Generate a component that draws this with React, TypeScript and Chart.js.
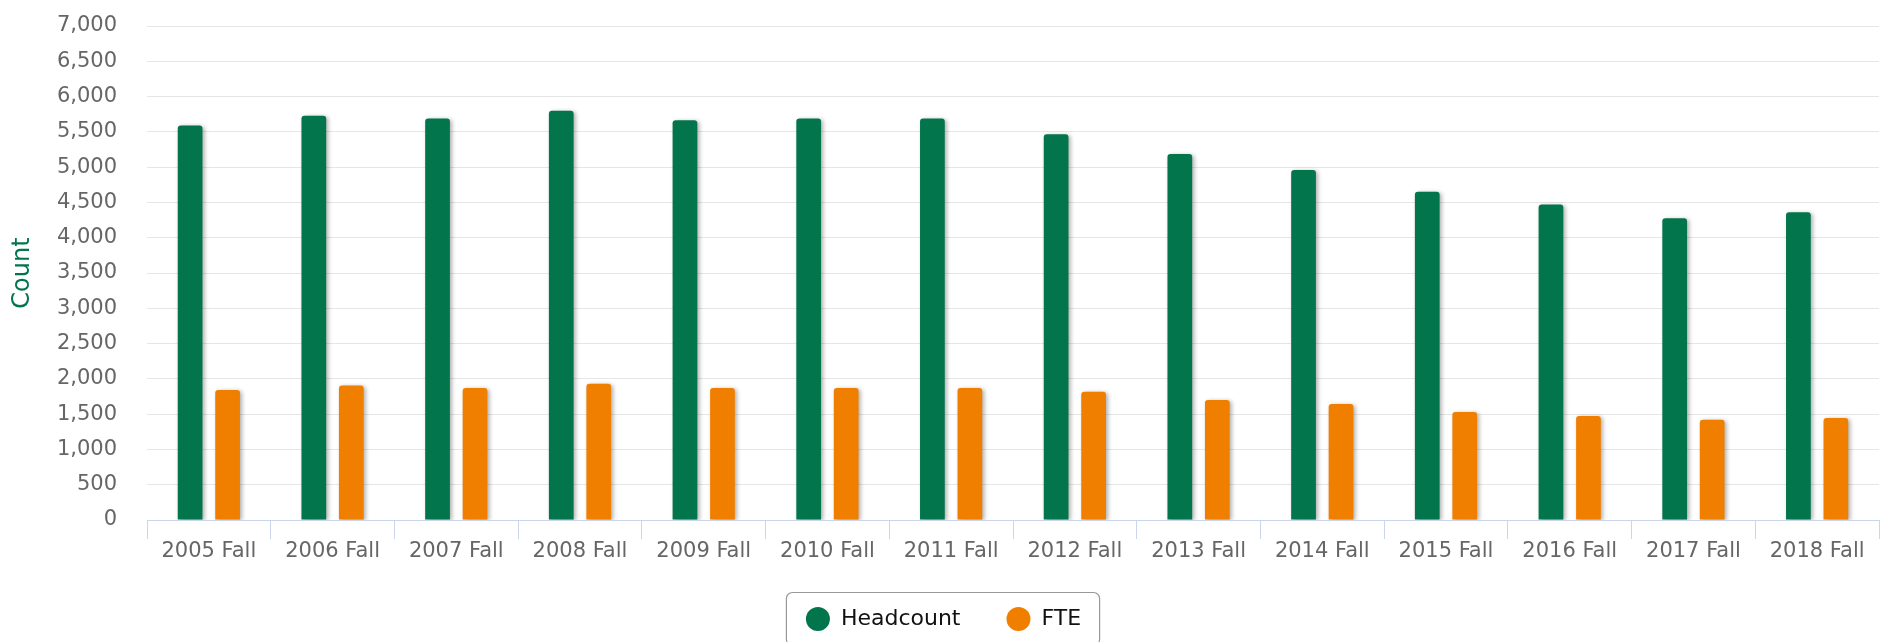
import React, { useEffect, useRef } from "react";
import { Chart, registerables } from "chart.js";

Chart.register(...registerables);

const categories = [
  "2005 Fall", "2006 Fall", "2007 Fall", "2008 Fall", "2009 Fall", "2010 Fall", "2011 Fall",
  "2012 Fall", "2013 Fall", "2014 Fall", "2015 Fall", "2016 Fall", "2017 Fall", "2018 Fall",
];
const headcount = [5590, 5730, 5690, 5800, 5665, 5690, 5690, 5465, 5185, 4960, 4650, 4470, 4275, 4360];
const fte = [1843, 1905, 1872, 1930, 1872, 1872, 1872, 1817, 1700, 1645, 1530, 1475, 1420, 1445];
const seriesNames = ["Headcount", "FTE"];
const yTitle = "Count";

const GREEN = "#03754c";
const ORANGE = "#f07f00";
const FONT = "'DejaVu Sans', sans-serif";
const LEGEND_FONT_SIZE = 22;

const shadowPlugin = {
  id: "barShadow",
  beforeDatasetsDraw(chart: any) {
    const ctx = chart.ctx;
    ctx.save();
    ctx.shadowColor = "rgba(0,0,0,0.32)";
    ctx.shadowBlur = 4;
    ctx.shadowOffsetX = 2;
    ctx.shadowOffsetY = 1;
  },
  afterDatasetsDraw(chart: any) {
    chart.ctx.restore();
  },
};

const legendBoxPlugin = {
  id: "legendBox",
  afterDraw(chart: any) {
    const lg = chart.legend;
    if (!lg || !lg.legendHitBoxes || !lg.legendHitBoxes.length) return;
    const hb = lg.legendHitBoxes;
    const first = hb[0];
    const last = hb[hb.length - 1];
    const cy = first.top + LEGEND_FONT_SIZE / 2;
    const x0 = first.left - 19.5;
    const x1 = last.left + last.width + 18.5;
    const y0 = cy - 26.5;
    const y1 = cy + 26.5;
    const ctx = chart.ctx;
    ctx.save();
    ctx.strokeStyle = "#999999";
    ctx.lineWidth = 1.2;
    ctx.beginPath();
    ctx.roundRect(x0, y0, x1 - x0, y1 - y0, 6);
    ctx.stroke();
    ctx.restore();
  },
};

export default function App() {
  const ref = useRef<HTMLCanvasElement | null>(null);

  useEffect(() => {
    if (!ref.current) return;
    const chart = new Chart(ref.current, {
      type: "bar",
      data: {
        labels: categories,
        datasets: [
          {
            label: seriesNames[0],
            data: headcount,
            backgroundColor: GREEN,
            borderWidth: 0,
            borderRadius: { topLeft: 3, topRight: 3, bottomLeft: 0, bottomRight: 0 },
            borderSkipped: false,
            categoryPercentage: 0.606,
            barPercentage: 0.66,
          },
          {
            label: seriesNames[1],
            data: fte,
            backgroundColor: ORANGE,
            borderWidth: 0,
            borderRadius: { topLeft: 3, topRight: 3, bottomLeft: 0, bottomRight: 0 },
            borderSkipped: false,
            categoryPercentage: 0.606,
            barPercentage: 0.66,
          },
        ],
      },
      options: {
        responsive: false,
        animation: false,
        layout: { padding: { top: 18, right: 4, left: 0, bottom: 28 } },
        plugins: {
          tooltip: { enabled: false },
          legend: {
            position: "bottom",
            labels: {
              usePointStyle: true,
              pointStyle: "circle",
              boxHeight: 17,
              pointStyleWidth: 24,
              padding: 46,
              color: "#111111",
              font: { family: FONT, size: LEGEND_FONT_SIZE, weight: "normal" },
            },
          },
        },
        scales: {
          x: {
            afterFit: (s: any) => {
              s.height = 42;
            },
            grid: {
              display: true,
              drawOnChartArea: false,
              drawTicks: true,
              tickLength: 19,
              color: "#ccd6eb",
              offset: true,
            },
            border: { display: true, color: "#ccd6eb", width: 1 },
            ticks: {
              color: "#666666",
              padding: 0,
              font: { family: FONT, size: 21 },
              maxRotation: 0,
              autoSkip: false,
            },
          },
          y: {
            min: 0,
            max: 7000,
            afterFit: (s: any) => {
              s.width = 139;
              s.paddingTop = 0;
              s.paddingBottom = 0;
            },
            grid: { color: "#e6e6e6", drawTicks: false, lineWidth: 1 },
            border: { display: false },
            ticks: {
              stepSize: 500,
              padding: 30,
              color: "#666666",
              font: { family: FONT, size: 21 },
              callback: (v: any) => Number(v).toLocaleString("en-US"),
            },
            title: {
              display: true,
              text: yTitle,
              color: GREEN,
              font: { family: FONT, size: 24 },
              padding: { top: 0, bottom: 0 },
            },
          },
        },
      },
      plugins: [shadowPlugin, legendBoxPlugin],
    });
    return () => chart.destroy();
  }, []);

  return (
    <div style={{ width: 1875, height: 660 }}>
      <canvas ref={ref} width={1875} height={660} style={{ display: "block" }} />
    </div>
  );
}
